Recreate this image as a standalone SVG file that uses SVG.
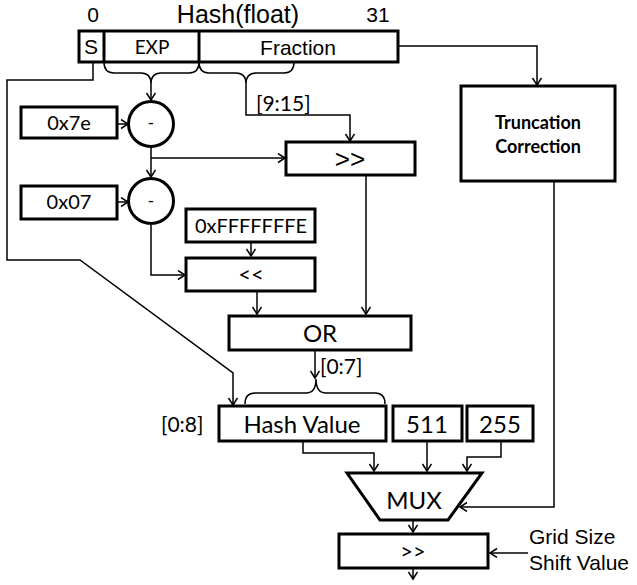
<svg xmlns="http://www.w3.org/2000/svg" width="637" height="585" viewBox="0 0 637 585">
<style>
.box{fill:#fff;stroke:#000;stroke-width:3}
.ln{fill:none;stroke:#000;stroke-width:1.5}
.ar{fill:none;stroke:#000;stroke-width:1.5;marker-end:url(#ah)}
.a{font-family:"Liberation Sans",Arial,sans-serif;fill:#000}
.c{font-family:Lato,"Open Sans",sans-serif;fill:#000}
.m{text-anchor:middle}
</style>
<defs>
<marker id="ah" markerWidth="12" markerHeight="12" refX="8" refY="5" orient="auto" markerUnits="userSpaceOnUse">
<path d="M1,0.5 L8,5 L1,9.5" fill="none" stroke="#000" stroke-width="1.5"/>
</marker>
</defs>
<rect width="637" height="585" fill="#fff"/>

<g id="connectors">
<path class="ar" d="M398,46 H537 V85"/>
<path class="ln" d="M104,62 Q104,73 114,73 L141,73 Q151,73 151,84 Q151,73 161,73 L189,73 Q199,73 199,62"/>
<path class="ln" d="M199,62 Q199,73 209,73 L236,73 Q246,73 246,84 Q246,73 256,73 L284,73 Q294,73 294,62"/>
<path class="ar" d="M151,84 V100"/>
<path class="ar" d="M246,84 V115 H350 V141"/>
<path class="ar" d="M117,124 H128"/>
<path class="ar" d="M151,147 V177"/>
<path class="ar" d="M151,158 H285"/>
<path class="ar" d="M117,202 H128"/>
<path class="ar" d="M151,225 V275 H185"/>
<path class="ar" d="M251,242 V256"/>
<path class="ar" d="M257,291 V314"/>
<path class="ar" d="M366,175 V314"/>
<path class="ar" d="M93,62 V80 H7 V260 H80 L233,373 V405"/>
<path class="ar" d="M315,350 V378"/>
<path class="ln" d="M245,404 Q245,393 255,393 L306,393 Q316,393 316,379 Q316,393 326,393 L375,393 Q385,393 385,404"/>
<path class="ar" d="M303,441 V453 H374 V471"/>
<path class="ar" d="M427,441 V471"/>
<path class="ar" d="M501,441 V457 H467 V471"/>
<path class="ar" d="M554,181 V507 H460"/>
<path class="ar" d="M413,520 V532"/>
<path class="ar" d="M528,553 H490"/>
<path class="ar" d="M413,568 V579"/>
</g>

<g id="labels-top">
<text class="a m" x="93" y="22" font-size="21">0</text>
<text class="a m" x="238" y="23" font-size="25">Hash(float)</text>
<text class="a m" x="378" y="22" font-size="21">31</text>
</g>

<g id="register">
<rect class="box" x="79" y="31" width="319" height="31"/>
<line x1="104" y1="31" x2="104" y2="62" stroke="#000" stroke-width="3"/>
<line x1="199" y1="31" x2="199" y2="62" stroke="#000" stroke-width="3"/>
<text class="a m" x="91" y="54" font-size="21">S</text>
<text class="c m" x="152" y="54" font-size="19">EXP</text>
<text class="a m" x="298" y="55" font-size="21">Fraction</text>
</g>

<g id="label-9-15"><text class="c" x="256" y="111" font-size="21">[9:15]</text></g>

<g id="const-7e">
<rect class="box" x="21" y="107" width="96" height="31"/>
<text class="c m" x="69" y="130" font-size="20">0x7e</text>
</g>
<g id="sub1">
<circle class="box" cx="151" cy="124" r="22.5" stroke-width="2.5"/>
<text class="c m" x="151" y="129" font-size="17">-</text>
</g>
<g id="shr1">
<rect class="box" x="286" y="142" width="129" height="33"/>
<text class="a m" x="350" y="168" font-size="26">&gt;&gt;</text>
</g>
<g id="truncation">
<rect class="box" x="461" y="86" width="154" height="95"/>
<text class="c m" x="538" y="129" font-size="18" font-weight="bold">Truncation</text>
<text class="c m" x="538" y="153" font-size="18" font-weight="bold">Correction</text>
</g>
<g id="const-07">
<rect class="box" x="21" y="186" width="96" height="33"/>
<text class="c m" x="69" y="209" font-size="20">0x07</text>
</g>
<g id="sub2">
<circle class="box" cx="151" cy="201" r="22.5" stroke-width="2.5"/>
<text class="c m" x="151" y="207" font-size="17">-</text>
</g>
<g id="const-fffffffe">
<rect class="box" x="186" y="209" width="129" height="33"/>
<text class="c m" x="251" y="233" font-size="20">0xFFFFFFFE</text>
</g>
<g id="shl">
<rect class="box" x="186" y="258" width="129" height="33"/>
<text class="c m" x="251" y="282" font-size="22">&lt;&lt;</text>
</g>
<g id="or">
<rect class="box" x="229" y="316" width="182" height="34"/>
<text class="c m" x="320" y="342" font-size="24">OR</text>
</g>
<g id="label-0-7"><text class="c" x="320" y="374" font-size="21">[0:7]</text></g>
<g id="label-0-8"><text class="c" x="161" y="432" font-size="21">[0:8]</text></g>
<g id="hash-value">
<rect class="box" x="219" y="406" width="167" height="35"/>
<text class="c m" x="302" y="433" font-size="24">Hash Value</text>
</g>
<g id="c511">
<rect class="box" x="393" y="406" width="69" height="35"/>
<text class="c m" x="427" y="433" font-size="24">511</text>
</g>
<g id="c255">
<rect class="box" x="467" y="406" width="66" height="35"/>
<text class="c m" x="500" y="433" font-size="24">255</text>
</g>
<g id="mux">
<polygon class="box" points="347,473 482,473 448,520 380,520"/>
<text class="c m" x="414" y="509" font-size="24">MUX</text>
</g>
<g id="shr2">
<rect class="box" x="339" y="534" width="149" height="34"/>
<text class="c m" x="413" y="559" font-size="22">&gt;&gt;</text>
</g>
<g id="grid-label">
<text class="a" x="529" y="544" font-size="21">Grid Size</text>
<text class="a" x="529" y="570" font-size="21">Shift Value</text>
</g>
</svg>
